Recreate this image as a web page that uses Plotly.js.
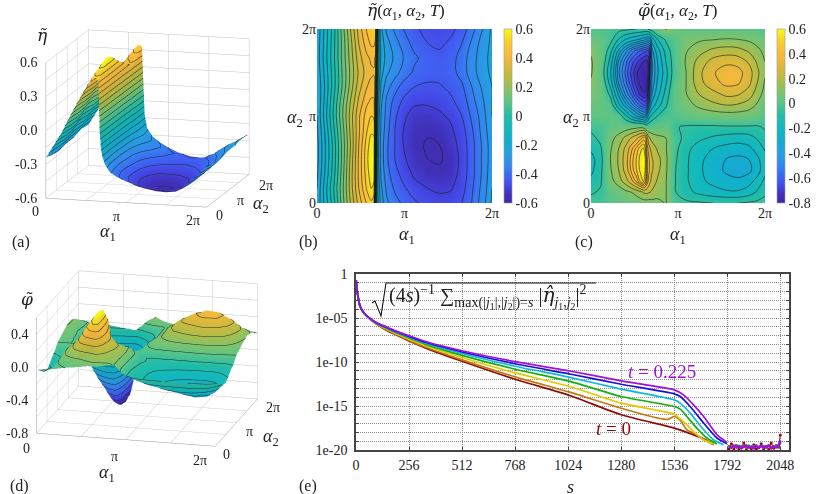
<!DOCTYPE html>
<html>
<head>
<meta charset="utf-8">
<script src="https://cdn.plot.ly/plotly-3.0.1.min.js"></script>
<style>html,body{margin:0;padding:0;background:#fff}</style>
</head>
<body>
<div id="chart" style="width:830px;height:494px"></div>
<script>
const alpha1Eta = [0,0.3,0.6,0.9,1.2,1.5,1.8,1.95,2.05,2.1,2.15,2.2,2.3,2.5,2.8,3.1,3.5,4.0,4.4,4.8,5.2,5.5,5.8,6.05,6.283];
const alpha2Eta = [0,0.524,1.047,1.571,2.094,2.618,3.142,3.665,4.189,4.712,5.236,5.76,6.283];
const etaValues = [
[-0.24,-0.13,-0.02,0.12,0.25,0.37,0.46,0.49,0.46,0.02,-0.14,-0.20,-0.27,-0.34,-0.38,-0.41,-0.44,-0.47,-0.48,-0.475,-0.45,-0.41,-0.35,-0.30,-0.24],
[-0.25,-0.12,0.0,0.13,0.27,0.40,0.51,0.55,0.53,0.08,-0.15,-0.22,-0.29,-0.36,-0.41,-0.44,-0.48,-0.50,-0.51,-0.505,-0.47,-0.42,-0.36,-0.31,-0.25],
[-0.26,-0.14,-0.02,0.12,0.27,0.41,0.53,0.58,0.57,0.12,-0.15,-0.23,-0.31,-0.38,-0.43,-0.47,-0.51,-0.535,-0.54,-0.53,-0.48,-0.43,-0.37,-0.32,-0.26],
[-0.27,-0.15,-0.03,0.11,0.26,0.41,0.54,0.60,0.59,0.15,-0.15,-0.24,-0.32,-0.39,-0.45,-0.49,-0.53,-0.55,-0.555,-0.535,-0.485,-0.43,-0.37,-0.32,-0.27],
[-0.27,-0.15,-0.03,0.11,0.25,0.40,0.53,0.58,0.58,0.20,-0.14,-0.24,-0.32,-0.39,-0.45,-0.50,-0.54,-0.555,-0.55,-0.525,-0.48,-0.43,-0.37,-0.32,-0.27],
[-0.26,-0.14,-0.01,0.12,0.26,0.39,0.50,0.54,0.53,0.25,-0.12,-0.23,-0.31,-0.38,-0.45,-0.50,-0.535,-0.545,-0.535,-0.51,-0.47,-0.42,-0.36,-0.31,-0.26],
[-0.25,-0.12,0.01,0.14,0.27,0.39,0.48,0.50,0.49,0.28,-0.10,-0.22,-0.30,-0.37,-0.44,-0.49,-0.52,-0.525,-0.51,-0.49,-0.45,-0.40,-0.35,-0.30,-0.25],
[-0.25,-0.13,0.0,0.13,0.25,0.36,0.44,0.46,0.46,0.30,-0.08,-0.20,-0.29,-0.36,-0.42,-0.46,-0.49,-0.49,-0.48,-0.46,-0.43,-0.38,-0.33,-0.29,-0.25],
[-0.25,-0.14,-0.02,0.10,0.22,0.33,0.40,0.42,0.42,0.36,-0.02,-0.17,-0.26,-0.33,-0.38,-0.42,-0.45,-0.46,-0.455,-0.44,-0.41,-0.36,-0.31,-0.28,-0.25],
[-0.24,-0.13,-0.02,0.10,0.21,0.31,0.375,0.39,0.395,0.36,0.03,-0.14,-0.23,-0.29,-0.33,-0.37,-0.41,-0.43,-0.435,-0.42,-0.38,-0.33,-0.29,-0.26,-0.24],
[-0.23,-0.12,-0.01,0.11,0.22,0.33,0.39,0.41,0.41,0.39,0.08,-0.12,-0.21,-0.27,-0.31,-0.35,-0.39,-0.425,-0.435,-0.42,-0.38,-0.33,-0.29,-0.26,-0.23],
[-0.235,-0.125,-0.015,0.11,0.23,0.35,0.43,0.46,0.46,0.44,0.12,-0.12,-0.22,-0.28,-0.33,-0.37,-0.42,-0.45,-0.46,-0.44,-0.40,-0.35,-0.30,-0.27,-0.235],
[-0.24,-0.13,-0.02,0.12,0.25,0.37,0.46,0.49,0.49,0.47,0.16,-0.12,-0.24,-0.31,-0.36,-0.40,-0.44,-0.47,-0.475,-0.465,-0.43,-0.38,-0.33,-0.28,-0.24]
];

const alpha1Phi = [0,0.35,0.7,1.0,1.25,1.45,1.65,1.8,1.9,1.96,2.02,2.08,2.14,2.2,2.4,2.7,3.0,3.4,3.9,4.4,4.9,5.3,5.7,6.0,6.283];
const alpha2Phi = [0,0.393,0.785,1.178,1.571,1.963,2.356,2.749,3.142,3.534,3.927,4.32,4.712,5.105,5.498,5.89,6.283];
const phiValues = [
[-.03,-.02,.0,.02,.03,.04,.05,.06,.06,.06,.06,.06,.06,.07,.08,.105,.0,-.04,-.05,-.06,-.06,-.06,-.05,-.04,-.03],
[-.07,-.05,.02,.05,.08,.1,.13,.16,.19,.2,.2,.19,.18,.17,.13,.11,-.05,-.11,-.16,-.19,-.21,-.21,-.18,-.13,-.08],
[-.12,-.07,.07,.14,.22,.31,.42,.52,.56,.5,.4,.32,.27,.23,.17,.11,-.05,-.12,-.2,-.24,-.27,-.28,-.25,-.19,-.12],
[-.16,-.08,.09,.18,.29,.41,.5,.57,.59,.54,.42,.36,.31,.27,.2,.12,-.05,-.12,-.205,-.26,-.315,-.34,-.32,-.26,-.16],
[-.17,-.09,.1,.19,.3,.42,.51,.58,.6,.55,.42,.36,.31,.27,.21,.125,-.04,-.12,-.2,-.255,-.305,-.32,-.30,-.24,-.17],
[-.13,-.07,.09,.18,.28,.38,.47,.54,.56,.5,.38,.31,.26,.23,.17,.11,-.03,-.11,-.18,-.22,-.25,-.26,-.24,-.19,-.13],
[-.08,-.04,.07,.13,.2,.26,.32,.38,.42,.42,.3,.2,.17,.15,.12,.1,-.02,-.08,-.12,-.15,-.17,-.18,-.17,-.13,-.08],
[-.04,-.03,.02,.04,.05,.06,.07,.08,.06,.02,.0,.01,.02,.02,.03,.04,-.05,-.07,-.075,-.075,-.07,-.07,-.07,-.07,-.05],
[.02,.02,.02,.0,-.12,-.22,-.3,-.35,-.37,-.38,-.3,-.2,-.15,-.12,-.06,-.02,.0,.02,.04,.05,.06,.06,.05,.03,.02],
[.04,.03,.0,-.2,-.34,-.43,-.52,-.58,-.61,-.62,-.56,-.44,-.33,-.27,-.18,-.07,.01,.06,.12,.16,.18,.17,.14,.09,.04],
[.07,.04,-.08,-.32,-.47,-.56,-.67,-.73,-.75,-.75,-.72,-.58,-.43,-.36,-.25,-.11,.02,.09,.18,.23,.28,.27,.22,.14,.07],
[.09,.04,-.17,-.41,-.54,-.64,-.73,-.78,-.8,-.8,-.78,-.68,-.48,-.4,-.29,-.15,.0,.09,.23,.31,.36,.35,.28,.18,.09],
[.11,.01,-.21,-.45,-.575,-.67,-.755,-.79,-.81,-.81,-.8,-.74,-.52,-.42,-.31,-.17,-.02,.09,.24,.33,.385,.37,.3,.2,.11],
[.11,.03,-.17,-.42,-.54,-.63,-.7,-.74,-.76,-.77,-.77,-.75,-.55,-.42,-.3,-.14,-.02,.1,.21,.29,.32,.31,.25,.17,.1],
[.09,.04,-.11,-.32,-.44,-.52,-.58,-.62,-.64,-.65,-.66,-.66,-.55,-.38,-.26,-.11,-.01,.09,.15,.2,.22,.21,.17,.12,.08],
[.05,.03,-.03,-.15,-.23,-.27,-.3,-.33,-.35,-.36,-.38,-.4,-.38,-.27,-.15,-.05,.0,.07,.09,.1,.11,.105,.09,.07,.05],
[.0,-.01,-.02,-.03,-.04,-.05,-.06,-.06,-.07,-.07,-.07,-.05,-.03,-.02,.05,.105,.06,.03,.02,.02,.02,.02,.02,.01,.0]
];

// Spectra: s positions and -log10 of the spectrum for each time
const sHead = [1,3,6,10,18,34,58,98,146,195,256,340,512,768,1032,1280,1536];
const expHead = [.72,1.47,2.04,2.6,3.55,4.3];
const sTailRed = [1597,1678,1726];
const tailS = [1800,1812,1824,1836,1848,1860,1872,1884,1896,1908,1920,1932,1944,1956,1968,1980,1992,2004,2016,2028,2040,2048];
const floorRed = [19.9,19.3,19.95,19.5,19.9,19.7,19.2,19.95,19.6,19.85,19.4,19.9,19.75,19.3,19.9,19.6,19.95,19.2,19.8,19.5,19.7,18.3];
const floorPurple = [19.6,19.75,19.5,19.7,19.55,19.8,19.6,19.5,19.75,19.6,19.8,19.55,19.7,19.5,19.75,19.6,19.5,19.8,19.6,19.7,19.5,18.9];
const floorMid = [19.55,19.7,19.6,19.45,19.7,19.55,19.65,19.75,19.5,19.7,19.6,19.45,19.7,19.6,19.55,19.75,19.45,19.65,19.7,19.5,19.6,19.2];

const curveT0 = {s:[...sHead,...sTailRed], e:[...expHead,4.94,5.7,6.38,6.94,7.62,8.45,9.92,11.96,13.81,16.0,17.51,18.0,18.72,19.4], c:'#8f0a0a'};
const curveT1 = {s:[...sHead.slice(0,16),1484,1509,1536,1565,1597,1645,1678,1726], e:[...expHead,4.93,5.67,6.33,6.88,7.54,8.35,9.76,11.69,13.43,15.25,16.49,16.49,16.19,16.64,17.7,18.26,18.83,19.32], c:'#c07a10'};
const curveT2 = {s:[...sHead,1549,1589,1637,1678,1726], e:[...expHead,4.91,5.63,6.24,6.78,7.4,8.18,9.49,11.24,12.79,14.68,15.92,16.19,16.94,18.08,18.83,19.32], c:'#e4c800'};
const curveT3 = {s:[...sHead,1565,1597,1645,1694,1742], e:[...expHead,4.9,5.59,6.16,6.68,7.28,8.02,9.24,10.82,12.2,13.92,15.06,15.36,16.19,17.51,18.64,19.32], c:'#10b010'};
const curveT4 = {s:[...sHead,1565,1613,1678,1726,1774], e:[...expHead,4.89,5.56,6.1,6.61,7.18,7.9,9.03,10.48,11.74,13.09,14.3,14.68,15.81,17.7,18.83,19.4], c:'#10b8dc'};
const curveT5 = {s:[...sHead,1565,1613,1678,1742,1790], e:[...expHead,4.88,5.53,6.05,6.55,7.09,7.79,8.86,10.2,11.36,12.53,13.62,13.92,15.06,16.94,18.64,19.28], c:'#1a10d8'};
const curveT6 = {s:[...sHead,1581,1629,1678,1742,1790], e:[...expHead,4.87,5.51,6.0,6.49,7.02,7.7,8.72,9.96,11.02,12.15,13.17,13.74,14.87,16.19,18.26,19.13], c:'#a010dc'};

const piLabels = ['0','π','2π'];
const twoPi = 2*Math.PI;
const piTicks = [0,Math.PI,twoPi];
const gridTicks = [0,Math.PI/2,Math.PI,1.5*Math.PI,twoPi];
const sTicks = [0,256,512,768,1024,1280,1536,1792,2048];
const decadeExps = [0,1,2,3,4,5,6,7,8,9,10,11,12,13,14,15,16,17,18,19,20];

const parula = [[0,'#3e26a8'],[.05,'#4030b8'],[.1,'#4448e6'],[.143,'#4060f2'],[.167,'#3a6cf0'],[.21,'#3585f0'],[.286,'#25a0e0'],[.357,'#12adcf'],[.429,'#10b8c0'],[.5,'#1fbcaa'],[.571,'#55c48c'],[.643,'#85c268'],[.714,'#b5bc45'],[.786,'#dcb83c'],[.857,'#fbb93c'],[.93,'#f8d02c'],[1,'#f9fb15']];
const serif = '"Liberation Serif", serif';
const W=830, H=494;
const px = (a,b)=>[a/W,b/W];
const py = (top,bot)=>[1-bot/H,1-top/H];
const a1 = '<i>α</i><sub>1</sub>', a2 = '<i>α</i><sub>2</sub>';
const etaT = '<span style="font-family:\'DejaVu Serif\'"><i>η̃</i></span>';
const phiT = '<span style="font-family:\'DejaVu Serif\'"><i>φ̃</i></span>';
const etaH = '<span style="font-family:\'DejaVu Serif\'"><i>η̂</i></span>';

function fill(x,y,z,lo,hi,xa,ya,cbx,tv,tt){
  return {type:'contour',x,y,z,xaxis:xa,yaxis:ya,zmin:lo,zmax:hi,zauto:false,colorscale:parula,autocontour:false,
    contours:{coloring:'heatmap',showlines:false,start:lo,end:hi,size:0.05},line:{width:0},hoverinfo:'skip',
    colorbar:{x:cbx/W,xanchor:'left',xpad:0,ypad:0,y:1-116/H,yanchor:'middle',thickness:8,thicknessmode:'pixels',len:174,lenmode:'pixels',
      tickvals:tv,ticktext:tt,ticks:'',outlinewidth:0.6,outlinecolor:'#999',tickfont:{family:serif,size:14,color:'#222'}}};
}
function lines(x,y,z,start,end,size,xa,ya){
  return {type:'contour',x,y,z,xaxis:xa,yaxis:ya,showscale:false,autocontour:false,hoverinfo:'skip',
    contours:{coloring:'none',start,end,size},line:{color:'rgba(20,30,30,0.85)',width:0.7,smoothing:1,dash:'solid'}};
}
function surf(x,y,z,lo,hi,scene,start,end,size){
  return {type:'surface',x,y,z,scene,cmin:lo,cmax:hi,colorscale:parula,showscale:false,hoverinfo:'skip',
    lighting:{ambient:0.95,diffuse:0.12,specular:0,roughness:1,fresnel:0},
    contours:{x:{highlight:false},y:{highlight:false},z:{show:true,start,end,size,color:'#1a2a2a',width:1,highlight:false}}};
}
function ann3(x,y,z,text,xs,ys,size){
  return {x,y,z,text,showarrow:false,xshift:xs,yshift:-ys,xanchor:'center',yanchor:'middle',font:{family:serif,size:size||14,color:'#222'}};
}
function ax3(tv,range){
  return {range,tickvals:tv,ticktext:tv.map(()=>''),showticklabels:false,title:{text:''},showbackground:false,gridcolor:'#c4c4c4',gridwidth:1,
    showline:true,linecolor:'#9a9a9a',linewidth:1,zeroline:false,showspikes:false,ticks:''};
}
const eyeA = 2, eyeD = 2, zoomA = 1.44, zoomD = 1.7;
const scene1 = {domain:{x:[0,295/W],y:py(3,234)},
  camera:{projection:{type:'orthographic'},eye:{x:.2532*eyeA,y:-.9452*eyeA,z:.2066*eyeA},center:{x:0,y:0,z:0},up:{x:0,y:0,z:1}},
  aspectmode:'manual',aspectratio:{x:1*zoomA,y:.988*zoomA,z:.833*zoomA},
  xaxis:ax3(gridTicks,[0,twoPi]),yaxis:ax3(gridTicks,[0,twoPi]),zaxis:ax3([-.6,-.45,-.3,-.15,0,.15,.3,.45,.6],[-.6,.6]),
  annotations:[
    ann3(0,0,.6,'0.6',-17,0),ann3(0,0,.3,'0.3',-17,0),ann3(0,0,0,'0.0',-17,0),ann3(0,0,-.3,'-0.3',-20,0),ann3(0,0,-.6,'-0.6',-20,0),
    ann3(0,0,-.6,'0',-10,13),ann3(Math.PI,0,-.6,'π',-10,14),ann3(twoPi,0,-.6,'2π',-14,13),
    ann3(twoPi,0,-.6,'0',13,8),ann3(twoPi,Math.PI,-.6,'π',13,10),ann3(twoPi,twoPi,-.6,'2π',17,11)
  ]};
const scene2 = {domain:{x:[0,294/W],y:py(250,467)},
  camera:{projection:{type:'orthographic'},eye:{x:.2366*eyeD,y:-.9283*eyeD,z:.286*eyeD},center:{x:0,y:0,z:0},up:{x:0,y:0,z:1}},
  aspectmode:'manual',aspectratio:{x:1*zoomD,y:.924*zoomD,z:.652*zoomD},
  xaxis:ax3(gridTicks,[0,twoPi]),yaxis:ax3(gridTicks,[0,twoPi]),zaxis:ax3([-.8,-.6,-.4,-.2,0,.2,.4,.6],[-.8,.6]),
  annotations:[
    ann3(0,0,.4,'0.4',-17,0),ann3(0,0,0,'0.0',-17,0),ann3(0,0,-.4,'-0.4',-20,0),ann3(0,0,-.8,'-0.8',-20,0),
    ann3(0,0,-.8,'0',-10,15),ann3(Math.PI,0,-.8,'π',-11,17),ann3(twoPi,0,-.8,'2π',-15,14),
    ann3(twoPi,0,-.8,'0',11,8),ann3(twoPi,Math.PI,-.8,'π',13,9),ann3(twoPi,twoPi,-.8,'2π',16,8)
  ]};

function spec(c){
  return {type:'scatter',mode:'lines',x:c.s,y:c.e.map(v=>Math.pow(10,-v)),xaxis:'x3',yaxis:'y3',line:{color:c.c,width:1.7,shape:'spline',smoothing:0.6},hoverinfo:'skip',showlegend:false};
}
function floorTrace(vals,color,w,mode,ms){
  return {type:'scatter',mode:mode||'lines',x:tailS,y:vals.map(v=>Math.pow(10,-v)),xaxis:'x3',yaxis:'y3',line:{color,width:w},marker:{color,size:ms||2},hoverinfo:'skip',showlegend:false};
}
const specs = [curveT0,curveT1,curveT2,curveT3,curveT4,curveT5,curveT6].map(spec);
const data = [
  surf(alpha1Eta,alpha2Eta,etaValues,-.6,.6,'scene',-.55,.55,.05),
  surf(alpha1Phi,alpha2Phi,phiValues,-.8,.6,'scene2',-.78,.58,.08),
  fill(alpha1Eta,alpha2Eta,etaValues,-.6,.6,'x','y',504,[.6,.4,.2,0,-.2,-.4,-.6],['0.6','0.4','0.2','0','-0.2','-0.4','-0.6']),
  lines(alpha1Eta,alpha2Eta,etaValues,-.55,.55,.05,'x','y'),
  fill(alpha1Phi,alpha2Phi,phiValues,-.8,.6,'x2','y2',777,[.6,.4,.2,0,-.2,-.4,-.6,-.8],['0.6','0.4','0.2','0','-0.2','-0.4','-0.6','-0.8']),
  lines(alpha1Phi,alpha2Phi,phiValues,-.3,-.06,.08,'x2','y2'),
  lines(alpha1Phi,alpha2Phi,phiValues,.1,.34,.08,'x2','y2'),
  lines(alpha1Phi,alpha2Phi,phiValues,-.76,-.36,.05,'x2','y2'),
  lines(alpha1Phi,alpha2Phi,phiValues,.4,.6,.05,'x2','y2'),
  floorTrace(floorRed,'#8f0a0a',1,'lines+markers',3),
  ...specs.slice(0,6),
  floorTrace(floorMid,'#10b010',1,'markers',2.5),
  specs[6],
  floorTrace(floorPurple,'#a010dc',2.6)
];

function cax(dom,anchor){
  return {domain:dom,anchor,range:[0,twoPi],tickvals:piTicks,ticktext:piLabels,ticks:'',showgrid:false,zeroline:false,showline:false,
    tickfont:{family:serif,size:14,color:'#222'}};
}
function note(x,y,text,size,color,anchor){
  return {xref:'paper',yref:'paper',x:x/W,y:1-y/H,text,showarrow:false,xanchor:anchor||'center',yanchor:'middle',font:{family:serif,size:size||14,color:color||'#222'}};
}
const layout = {
  width:W,height:H,margin:{l:0,r:0,t:0,b:0},paper_bgcolor:'#fff',plot_bgcolor:'#fff',showlegend:false,
  scene:scene1,scene2:scene2,
  xaxis:cax(px(317,492),'y'),yaxis:cax(py(29,203),'x'),
  xaxis2:cax(px(591,765),'y2'),yaxis2:cax(py(29,203),'x2'),
  xaxis3:{domain:px(356,789),anchor:'y3',range:[0,2090],tickvals:sTicks,ticks:'inside',ticklen:3,tickcolor:'#444',showgrid:true,griddash:'1px,1px',gridcolor:'#8a8a8a',gridwidth:1,
    zeroline:false,showline:true,linecolor:'#444',linewidth:1.5,mirror:'ticks',ticklabelstandoff:1,tickfont:{family:serif,size:14,color:'#222'}},
  yaxis3:{domain:py(274,450),anchor:'x3',type:'log',range:[-20,0],tickvals:decadeExps.map(e=>Math.pow(10,-e)),
    ticktext:decadeExps.map(e=>e===0?'1':(e%5===0?'1e-'+String(e).padStart(2,'0'):'')),
    ticks:'inside',ticklen:3,tickcolor:'#444',showgrid:true,griddash:'1px,1px',gridcolor:'#8a8a8a',gridwidth:1,zeroline:false,showline:true,linecolor:'#444',linewidth:1.5,mirror:'ticks',ticklabelstandoff:4,
    tickfont:{family:serif,size:14,color:'#222'}},
  shapes:[{type:'path',xref:'paper',yref:'paper',
    path:`M ${372/W} ${1-303/H} L ${375/W} ${1-301/H} L ${381/W} ${1-316/H} L ${386/W} ${1-283/H} L ${596/W} ${1-283/H}`,
    line:{color:'#111',width:1.1}}],
  annotations:[
    note(42,35,etaT,17),note(27,299,phiT,17),
    note(108,232,a1,18),note(261,204,a2,18),
    note(107,473,a1,18),note(271,437,a2,18),
    note(406,11,etaT+'(<i>α</i><sub>1</sub>, <i>α</i><sub>2</sub>, <i>T</i>)',17),
    note(678,11,phiT+'(<i>α</i><sub>1</sub>, <i>α</i><sub>2</sub>, <i>T</i>)',17),
    note(407,235,a1,18),note(295,118,a2,18),
    note(678,235,a1,18),note(571,118,a2,18),
    note(21,242,'(a)',16),note(308,242,'(b)',16),note(584,242,'(c)',16),note(19,486,'(d)',16),note(308,486,'(e)',16),
    note(570,487,'<i>s</i>',18),
    note(387,297,'(4<i>s</i>)<sup>−1</sup> ∑<sub>max(|<i>j</i><sub>1</sub>|,|<i>j</i><sub>2</sub>|)=<i>s</i></sub> |'+etaH+'<sub><i>j</i><sub>1</sub>,<i>j</i><sub>2</sub></sub>|<sup>2</sup>',20,'#222','left'),
    note(662,371,'<i>t</i> = 0.225',19,'#a010dc'),
    note(613,428,'<i>t</i> = 0',19,'#8f0a0a')
  ]
};
Plotly.newPlot('chart',data,layout,{displayModeBar:false,responsive:false});
</script>
</body>
</html>
